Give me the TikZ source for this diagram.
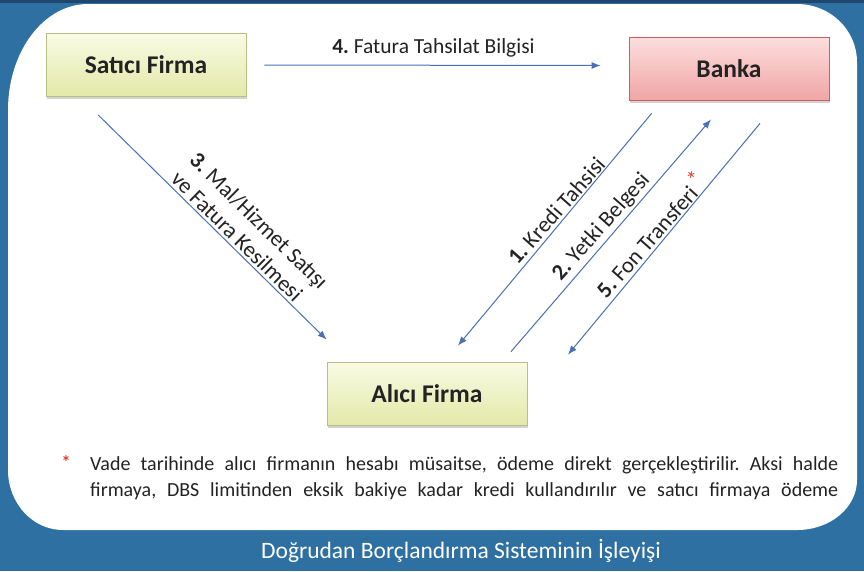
\documentclass[tikz,border=0pt]{standalone}
\usepackage{fontspec}
\setmainfont{Carlito}
\frenchspacing
\usetikzlibrary{arrows.meta,shadows,calc}
\definecolor{bgblue}{RGB}{46,112,162}
\definecolor{topline}{RGB}{30,70,110}
\definecolor{arrowblue}{RGB}{72,112,182}
\definecolor{txt}{RGB}{35,35,35}
\definecolor{ylwtop}{RGB}{249,251,228}
\definecolor{ylwbot}{RGB}{226,233,168}
\definecolor{ylwborder}{RGB}{185,190,135}
\definecolor{pnktop}{RGB}{252,222,222}
\definecolor{pnkbot}{RGB}{240,165,165}
\definecolor{pnkborder}{RGB}{205,95,95}
\definecolor{star}{RGB}{225,60,40}
\begin{document}
\begin{tikzpicture}[x=1pt,y=-1pt,
  firm/.style={draw=ylwborder, line width=0.8pt, top color=ylwtop, bottom color=ylwbot,
    minimum width=200pt, minimum height=63pt, inner sep=0pt,
    font=\fontsize{25.5}{28}\selectfont\bfseries, text=txt,
    drop shadow={opacity=0.35, shadow xshift=1pt, shadow yshift=-2.5pt}},
  bank/.style={firm, draw=pnkborder, top color=pnktop, bottom color=pnkbot},
  flow/.style={draw=arrowblue, line width=1pt, -{Latex[length=9pt,width=7pt]}},
  lbl/.style={font=\fontsize{21.5}{25}\selectfont, text=txt, inner sep=1.5pt, align=center},
  rlbl/.style={lbl, font=\fontsize{22.5}{26.5}\selectfont, anchor=south},
  note/.style={anchor=west, inner sep=0pt, text=txt, font=\fontsize{20}{22}\selectfont}
]
\useasboundingbox (0,0) rectangle (864,571);
\fill[bgblue] (0,0) rectangle (864,571);
\fill[topline] (0,0) rectangle (864,3);
% white panel
\fill[white] (8,110) arc[start angle=180, end angle=270, x radius=80, y radius=106]
  -- (797,4) arc[start angle=270, end angle=360, x radius=60, y radius=58]
  -- (857,480) arc[start angle=0, end angle=90, x radius=60, y radius=50]
  -- (63,530) arc[start angle=90, end angle=180, x radius=55, y radius=60]
  -- cycle;

% boxes
\node[firm] (satici) at (146,65) {Satıcı Firma};
\node[bank] (banka) at (729,68.5) {Banka};
\node[firm] (alici) at (427,393.5) {Alıcı Firma};

% connector ends
\coordinate (c4s) at ($(satici.east)+(18,0)$);
\coordinate (c4e) at ($(banka.west)+(-28,-3)$);
\coordinate (c3s) at ($(satici.south west)+(52.5,18)$);
\coordinate (c3e) at ($(alici.north west)+(0,-22)$);
\coordinate (c1s) at ($(banka.south west)+(23,13)$);
\coordinate (c1e) at ($(alici.north)+(31,-16)$);
\coordinate (c2s) at ($(alici.north)+(84,-10)$);
\coordinate (c2e) at ($(banka.south)+(-18,19)$);
\coordinate (c5s) at ($(banka.south)+(31,23)$);
\coordinate (c5e) at ($(alici.north)+(141,-7)$);

% connectors
\draw[flow] (c4s) -- (c4e);
\draw[flow] (c3s) -- (c3e);
\draw[flow] (c1s) -- (c1e);
\draw[flow] (c2s) -- (c2e);
\draw[flow] (c5s) -- (c5e);

% connector labels
\node[lbl, anchor=south] (l4) at ($(c4s)!0.5!(c4e)+(1,-6)$) {\textbf{4.} Fatura Tahsilat Bilgisi};
\node[rlbl, rotate=-44.5, align=left] (l3) at ($(c3s)!0.59!(c3e)+(1,-1)$) {\textbf{3.} Mal/Hizmet Satışı\\ve Fatura Kesilmesi};
\node[rlbl, rotate=48.5] (l1) at ($(c1s)!0.45!(c1e)+(-1,-1)$) {\textbf{1.} Kredi Tahsisi};
\node[rlbl, rotate=48.5] (l2) at ($(c2s)!0.5!(c2e)+(-1,-1)$) {\textbf{2.} Yetki Belgesi};
\node[rlbl, rotate=48.5] (l5) at ($(c5s)!0.52!(c5e)+(-1,-1)$) {\textbf{5.} Fon Transferi\,\raisebox{0.6ex}{\textcolor{star}{*}}};

% footnote
\node[text=star, font=\fontsize{18}{20}\selectfont\bfseries] (fstar) at (66,462) {*};
\node[note] (f1) at (90,465)
  {\makebox[748pt][s]{Vade tarihinde alıcı firmanın hesabı müsaitse, ödeme direkt gerçekleştirilir. Aksi halde}};
\node[note] (f2) at (90,491)
  {\makebox[748pt][s]{firmaya, DBS limitinden eksik bakiye kadar kredi kullandırılır ve satıcı firmaya ödeme}};

% title
\node[text=white, font=\fontsize{23.5}{26}\selectfont] (title) at (461,551) {Doğrudan Borçlandırma Sisteminin İşleyişi};
\end{tikzpicture}
\end{document}
